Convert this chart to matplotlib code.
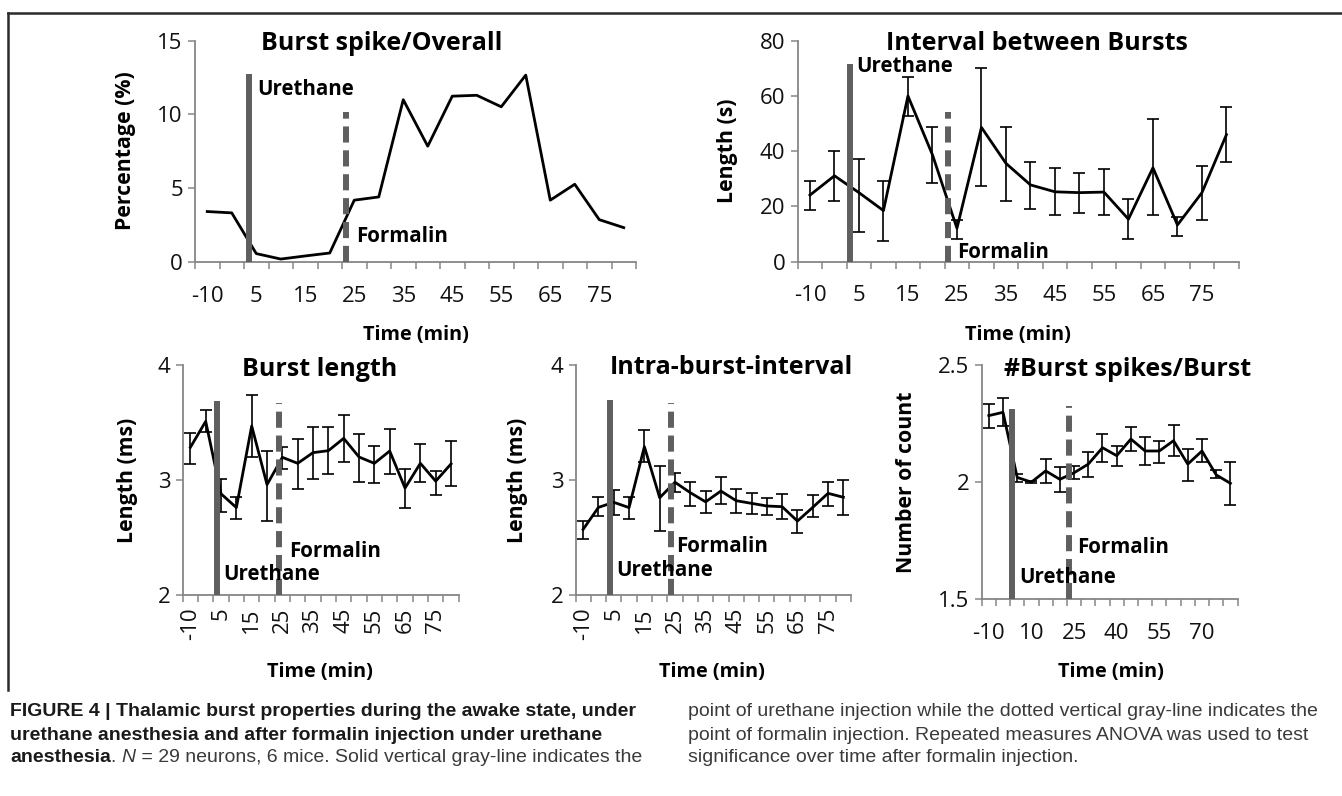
import matplotlib
matplotlib.use("Agg")
import matplotlib.pyplot as plt
from matplotlib.lines import Line2D

plt.rcParams['font.family'] = ['Open Sans', 'DejaVu Sans']

# ---------------- data ----------------
times = [-10, -5, 5, 10, 15, 20, 25, 30, 35, 40, 45, 50, 55, 60, 65, 70, 75, 80]

burst_pct = [3.42, 3.33, 0.57, 0.20, 0.41, 0.61, 4.19, 4.41, 11.0, 7.85, 11.24,
             11.3, 10.52, 12.67, 4.19, 5.27, 2.87, 2.33]

ibi_mean = [24.1, 31.1, 25.0, 18.5, 60.0, 38.7, 12.1, 48.6, 35.6, 27.8, 25.3,
            25.0, 25.2, 15.4, 34.0, 13.3, 25.0, 46.0]
ibi_hi = [29.3, 40.2, 37.0, 29.3, 67.0, 48.7, 15.1, 70.0, 48.6, 36.1, 33.8,
          32.2, 33.5, 22.7, 51.5, 16.3, 34.7, 56.0]
ibi_lo = [18.7, 22.0, 10.9, 7.4, 52.9, 28.6, 8.1, 27.4, 21.8, 18.9, 16.9,
          17.7, 17.0, 8.1, 17.0, 9.3, 15.1, 36.0]

bl_mean = [3.284, 3.51, 2.88, 2.76, 3.47, 2.96, 3.197, 3.145, 3.238, 3.255,
           3.362, 3.20, 3.145, 3.252, 2.93, 3.145, 2.99, 3.14]
bl_hi = [3.41, 3.61, 3.01, 2.85, 3.74, 3.255, 3.287, 3.357, 3.458, 3.458,
         3.562, 3.40, 3.296, 3.446, 3.096, 3.313, 3.08, 3.336]
bl_lo = [3.136, 3.42, 2.72, 2.66, 3.20, 2.646, 3.10, 2.92, 3.01, 3.05,
         3.154, 2.98, 2.977, 3.052, 2.754, 2.98, 2.87, 2.948]

ib_mean = [2.571, 2.762, 2.806, 2.76, 3.29, 2.846, 2.98, 2.89, 2.81, 2.904,
           2.82, 2.797, 2.774, 2.768, 2.643, 2.762, 2.884, 2.85]
ib_hi = [2.643, 2.855, 2.913, 2.85, 3.435, 3.122, 3.058, 2.986, 2.904, 3.029,
         2.925, 2.884, 2.846, 2.878, 2.739, 2.87, 2.986, 3.0]
ib_lo = [2.487, 2.687, 2.70, 2.66, 3.16, 2.557, 2.90, 2.774, 2.716, 2.788,
         2.71, 2.704, 2.70, 2.66, 2.54, 2.676, 2.774, 2.70]

sp_mean = [2.284, 2.298, 2.02, 2.0, 2.048, 2.012, 2.04, 2.077, 2.147, 2.113,
           2.184, 2.133, 2.133, 2.177, 2.077, 2.133, 2.031, 1.995]
sp_hi = [2.334, 2.36, 2.035, 2.005, 2.099, 2.066, 2.069, 2.13, 2.206, 2.154,
         2.237, 2.194, 2.177, 2.244, 2.14, 2.184, 2.052, 2.087]
sp_lo = [2.233, 2.241, 2.0, 1.995, 1.998, 1.957, 2.014, 2.02, 2.087, 2.07,
         2.133, 2.073, 2.08, 2.112, 2.005, 2.087, 2.016, 1.903]

titles = ["Burst spike/Overall", "Interval between Bursts", "Burst length",
          "Intra-burst-interval", "#Burst spikes/Burst"]
ylabels = ["Percentage (%)", "Length (s)", "Length (ms)", "Length (ms)",
           "Number of count"]
xlabel = "Time (min)"

# ---------------- figure ----------------
W, H = 1342, 796
fig = plt.figure(figsize=(W / 100, H / 100), dpi=100)

def rect(l, t, r, b):
    return [l / W, 1 - b / H, (r - l) / W, (b - t) / H]

GRAY = "#868686"
BAR = "#5f5f5f"

def style_axes(ax, ylim, yticks, label_step, rotate):
    n = len(times)
    ax.set_xlim(-0.5, n - 0.5)
    ax.set_ylim(*ylim)
    ax.set_yticks(yticks)
    ax.set_yticklabels([("%g" % v) for v in yticks])
    for s in ("top", "right"):
        ax.spines[s].set_visible(False)
    for s in ("left", "bottom"):
        ax.spines[s].set_color(GRAY)
        ax.spines[s].set_linewidth(1.3)
    ax.set_xticks([i - 0.5 for i in range(n + 1)])
    ax.set_xticklabels([])
    idx = list(range(0, n, label_step))
    ax.set_xticks(idx, minor=True)
    ax.set_xticklabels([str(times[i]) for i in idx], minor=True,
                       rotation=90 if rotate else 0)
    ax.tick_params(axis="x", which="major", direction="out", length=4.8,
                   width=1.1, color=GRAY)
    ax.tick_params(axis="x", which="minor", length=0, labelsize=16,
                   pad=9 if rotate else 17, labelcolor="#111111")
    ax.tick_params(axis="y", direction="out", length=4.8, width=1.1,
                   color=GRAY, labelsize=16, pad=4, labelcolor="#111111")
    ax.patch.set_alpha(0)

def events(ax, ymin, u, f, ut, ft):
    ax.vlines(u[0], ymin, u[1], colors=BAR, linewidth=4.3, zorder=4,
              capstyle="butt")
    ax.add_line(Line2D([f[0], f[0]], [ymin, f[1]], color=BAR, linewidth=4.3,
                       linestyle=(0, (2.7, 1.3)), zorder=4,
                       solid_capstyle="butt", dash_capstyle="butt"))
    ax.text(ut[0], ut[1], "Urethane", fontsize=14.8, fontweight="bold",
            ha="left", va="center", zorder=5)
    ax.text(ft[0], ft[1], "Formalin", fontsize=14.8, fontweight="bold",
            ha="left", va="center", zorder=5)

def plot_err(ax, mean, hi, lo):
    x = list(range(len(times)))
    yerr = [[m - l for m, l in zip(mean, lo)], [h - m for m, h in zip(mean, hi)]]
    ax.errorbar(x, mean, yerr=yerr, color="black", linewidth=2.0,
                elinewidth=1.2, capsize=4.5, capthick=1.2, zorder=3)

# Panel 1
ax1 = fig.add_axes(rect(195, 40.7, 636, 262))
ax1.plot(range(len(times)), burst_pct, color="black", linewidth=2.0, zorder=3)
style_axes(ax1, (0, 15), [0, 5, 10, 15], 2, False)
events(ax1, 0, (1.70, 12.74), (5.67, 10.15), (2.04, 11.7), (6.08, 1.7))

# Panel 2
ax2 = fig.add_axes(rect(797.7, 40.7, 1238.7, 261.7))
plot_err(ax2, ibi_mean, ibi_hi, ibi_lo)
style_axes(ax2, (0, 80), [0, 20, 40, 60, 80], 2, False)
events(ax2, 0, (1.62, 71.6), (5.65, 54.3), (1.91, 70.6), (5.99, 3.4))

# Panel 3
ax3 = fig.add_axes(rect(182.7, 365, 458.7, 595))
plot_err(ax3, bl_mean, bl_hi, bl_lo)
style_axes(ax3, (2, 4), [2, 3, 4], 2, True)
events(ax3, 2, (1.72, 3.687), (5.77, 3.67), (2.13, 2.18), (6.44, 2.38))

# Panel 4
ax4 = fig.add_axes(rect(575.5, 365, 851, 595))
plot_err(ax4, ib_mean, ib_hi, ib_lo)
style_axes(ax4, (2, 4), [2, 3, 4], 2, True)
events(ax4, 2, (1.75, 3.696), (5.71, 3.667), (2.14, 2.21), (6.07, 2.42))

# Panel 5
ax5 = fig.add_axes(rect(981.7, 365, 1237.5, 599.3))
plot_err(ax5, sp_mean, sp_hi, sp_lo)
style_axes(ax5, (1.5, 2.5), [1.5, 2, 2.5], 3, False)
events(ax5, 1.5, (1.65, 2.311), (5.67, 2.325), (2.13, 1.594), (6.21, 1.72))

def ftext(x, y, s, **kw):
    fig.text(x / W, 1 - y / H, s, ha="center", va="center", **kw)

title_pos = [(382, 43), (1037, 43), (320, 370), (731, 368), (1128, 370)]
ylab_pos = [(125, 151), (727, 151), (127, 480), (518, 480), (907, 482)]
xlab_pos = [(416, 335), (1018, 335), (320, 672), (712, 672), (1111, 672)]
for (tx, ty), t in zip(title_pos, titles):
    ftext(tx, ty, t, fontsize=18, fontweight="bold")
for (lx, ly), t in zip(ylab_pos, ylabels):
    ftext(lx, ly, t, fontsize=15.3, fontweight="bold", rotation=90)
for (lx, ly) in xlab_pos:
    ftext(lx, ly, xlabel, fontsize=14.3, fontweight="bold")

# frame rules
fig.add_artist(Line2D([8 / W, 1], [1 - 13 / H, 1 - 13 / H], color="#2b2b2b",
                      linewidth=1.8, transform=fig.transFigure))
fig.add_artist(Line2D([8 / W, 8 / W], [1 - 13 / H, 1 - 690 / H], color="#2b2b2b",
                      linewidth=1.8, transform=fig.transFigure))

# caption
fig.canvas.draw()
renderer = fig.canvas.get_renderer()
CAP = 14

def runs(x, y, parts):
    cx = x
    for s, weight, style, color in parts:
        t = fig.text(cx / W, 1 - y / H, s, fontsize=CAP, fontweight=weight,
                     style=style, color=color, family=["Liberation Sans", "DejaVu Sans"],
                     ha="left", va="center")
        bb = t.get_window_extent(renderer=renderer)
        cx += bb.width

BK = "#1a1a1a"
RG = "#3a3a3a"
cap_y = [712, 735, 757]
runs(10, cap_y[0], [("FIGURE 4 | Thalamic burst properties during the awake state, under", "bold", "normal", BK)])
runs(10, cap_y[1], [("urethane anesthesia and after formalin injection under urethane", "bold", "normal", BK)])
runs(10, cap_y[2], [("anesthesia", "bold", "normal", BK), (". ", "normal", "normal", RG),
                    ("N", "normal", "italic", RG),
                    (" = 29 neurons, 6 mice. Solid vertical gray-line indicates the", "normal", "normal", RG)])
runs(688, cap_y[0], [("point of urethane injection while the dotted vertical gray-line indicates the", "normal", "normal", RG)])
runs(688, cap_y[1], [("point of formalin injection. Repeated measures ANOVA was used to test", "normal", "normal", RG)])
runs(688, cap_y[2], [("significance over time after formalin injection.", "normal", "normal", RG)])

fig.savefig("out.png", dpi=100)
